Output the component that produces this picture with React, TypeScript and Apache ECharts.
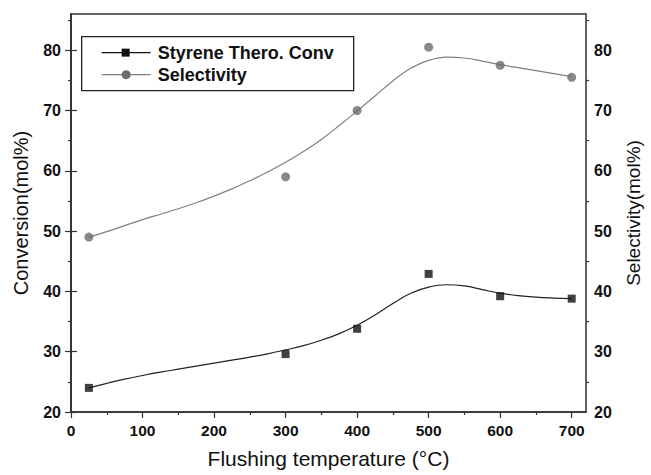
import React, { useEffect, useRef } from "react";
import * as echarts from "echarts";

// Measured points
const tempX = [25, 300, 400, 500, 600, 700];
const conversion = [24.0, 29.6, 33.8, 42.9, 39.2, 38.8];
const selectivity = [49.0, 59.0, 70.0, 80.5, 77.5, 75.5];

// Smooth fit curves (every 25 °C)
const curveX = [25, 50, 75, 100, 125, 150, 175, 200, 225, 250, 275, 300, 325, 350, 375, 400,
  425, 450, 475, 500, 525, 550, 575, 600, 625, 650, 675, 700];
const conversionFit = [24.0, 24.75, 25.45, 26.05, 26.6, 27.1, 27.6, 28.1, 28.6, 29.1, 29.65, 30.3, 31.0, 31.9, 33.0, 34.4,
  36.1, 38.0, 39.7, 40.7, 41.1, 40.9, 40.3, 39.7, 39.3, 39.05, 38.9, 38.8];
const selectivityFit = [49.0, 49.9, 50.9, 51.9, 52.8, 53.7, 54.7, 55.8, 57.0, 58.35, 59.8, 61.4, 63.2, 65.2, 67.5, 69.9,
  72.4, 74.9, 77.0, 78.3, 78.85, 78.7, 78.2, 77.6, 77.1, 76.6, 76.1, 75.6];

// Axis ticks
const xMajorTicks = [0, 100, 200, 300, 400, 500, 600, 700];
const xMinorTicks = [50, 150, 250, 350, 450, 550, 650];
const yMajorTicks = [20, 30, 40, 50, 60, 70, 80];
const yMinorTicks = [25, 35, 45, 55, 65, 75, 85];

const legendNames = ["Styrene Thero. Conv", "Selectivity"];
const xTitle = "Flushing temperature (°C)";
const yLeftTitle = "Conversion(mol%)";
const yRightTitle = "Selectivity(mol%)";

const FONT = "'Liberation Sans', Arial, sans-serif";
const AXIS_COLOR = "#333";
const X_MIN = 0, X_MAX = 720, Y_MIN = 20, Y_MAX = 86;

export default function App() {
  const ref = useRef<HTMLDivElement>(null);
  useEffect(() => {
    if (!ref.current) return;
    const chart = echarts.init(ref.current, undefined, { renderer: "svg" });
    const pairs = (xs: number[], ys: number[]) => xs.map((x, i) => [x, ys[i]]);
    const labelStyle = { color: "#111", fontFamily: FONT, fontWeight: "bold" as const };
    const majorX = {
      type: "value", min: X_MIN, max: X_MAX, position: "bottom",
      axisLine: { show: true, lineStyle: { color: AXIS_COLOR, width: 1.5 } },
      axisTick: { show: true, length: 6, customValues: xMajorTicks, lineStyle: { color: AXIS_COLOR, width: 1.2 } },
      axisLabel: { ...labelStyle, fontSize: 15.5, margin: 10, customValues: xMajorTicks },
      splitLine: { show: false },
      name: xTitle, nameLocation: "middle", nameGap: 36,
      nameTextStyle: { color: "#111", fontFamily: FONT, fontSize: 21 },
    };
    const minorX = {
      type: "value", min: X_MIN, max: X_MAX, position: "bottom",
      axisLine: { show: false },
      axisTick: { show: true, length: 3, customValues: xMinorTicks, lineStyle: { color: AXIS_COLOR, width: 1.2 } },
      axisLabel: { show: false },
      splitLine: { show: false },
    };
    const yBase = (pos: string) => ({
      type: "value", min: Y_MIN, max: Y_MAX, position: pos,
      axisLine: { show: true, lineStyle: { color: AXIS_COLOR, width: 1.5 } },
      axisTick: { show: true, length: 6, customValues: yMajorTicks, lineStyle: { color: AXIS_COLOR, width: 1.2 } },
      axisLabel: { ...labelStyle, fontSize: 16, margin: pos === "left" ? 10 : 8, customValues: yMajorTicks },
      splitLine: { show: false },
    });
    const yMinor = (pos: string) => ({
      type: "value", min: Y_MIN, max: Y_MAX, position: pos,
      axisLine: { show: false },
      axisTick: { show: true, length: 3, customValues: yMinorTicks, lineStyle: { color: AXIS_COLOR, width: 1.2 } },
      axisLabel: { show: false },
      splitLine: { show: false },
    });
    chart.setOption({
      animation: false,
      backgroundColor: "#fff",
      grid: {
        left: 71, right: 55, top: 14, bottom: 63,
        show: true, borderColor: AXIS_COLOR, borderWidth: 1.5, backgroundColor: "transparent",
      },
      xAxis: [majorX, minorX],
      yAxis: [
        { ...yBase("left"), name: yLeftTitle, nameLocation: "middle", nameGap: 40, nameRotate: 90,
          nameTextStyle: { color: "#111", fontFamily: FONT, fontSize: 20 } },
        { ...yBase("right"), name: yRightTitle, nameLocation: "middle", nameGap: 38, nameRotate: 90,
          nameTextStyle: { color: "#111", fontFamily: FONT, fontSize: 19 } },
        yMinor("left"),
        yMinor("right"),
      ],
      series: [
        {
          name: legendNames[0] + " fit", type: "line", xAxisIndex: 0, yAxisIndex: 0,
          data: pairs(curveX, conversionFit), smooth: 0.4, showSymbol: false,
          lineStyle: { color: "#222", width: 1.2 }, z: 2,
        },
        {
          name: legendNames[1] + " fit", type: "line", xAxisIndex: 0, yAxisIndex: 1,
          data: pairs(curveX, selectivityFit), smooth: 0.4, showSymbol: false,
          lineStyle: { color: "#808080", width: 1.2 }, z: 2,
        },
        {
          name: legendNames[0], type: "scatter", xAxisIndex: 0, yAxisIndex: 0,
          data: pairs(tempX, conversion), symbol: "rect", symbolSize: 8,
          itemStyle: { color: "#111" }, z: 3,
        },
        {
          name: legendNames[1], type: "scatter", xAxisIndex: 0, yAxisIndex: 1,
          data: pairs(tempX, selectivity), symbol: "circle", symbolSize: 9,
          itemStyle: { color: "#6b6b6b" }, z: 3,
        },
      ],
      graphic: [
        {
          type: "group", left: 81, top: 36, z: 10,
          children: [
            { type: "rect", shape: { x: 0, y: 0, width: 272, height: 54 },
              style: { fill: "#fff", stroke: "#222", lineWidth: 1.3 } },
            { type: "line", shape: { x1: 20, y1: 16, x2: 69, y2: 16 }, style: { stroke: "#111", lineWidth: 1.2 } },
            { type: "rect", shape: { x: 40, y: 12, width: 8, height: 8 }, style: { fill: "#111" } },
            { type: "text", x: 76, y: 16,
              style: { text: legendNames[0], fill: "#111", font: `bold 18px ${FONT}`, verticalAlign: "middle" } },
            { type: "line", shape: { x1: 20, y1: 38, x2: 69, y2: 38 }, style: { stroke: "#808080", lineWidth: 1.2 } },
            { type: "circle", shape: { cx: 44.5, cy: 38, r: 4.5 }, style: { fill: "#6b6b6b" } },
            { type: "text", x: 76, y: 38,
              style: { text: legendNames[1], fill: "#111", font: `bold 18px ${FONT}`, verticalAlign: "middle" } },
          ],
        },
      ],
    });
    return () => chart.dispose();
  }, []);
  return <div ref={ref} style={{ position: "fixed", left: 0, top: 0, width: 651, height: 475 }} />;
}
